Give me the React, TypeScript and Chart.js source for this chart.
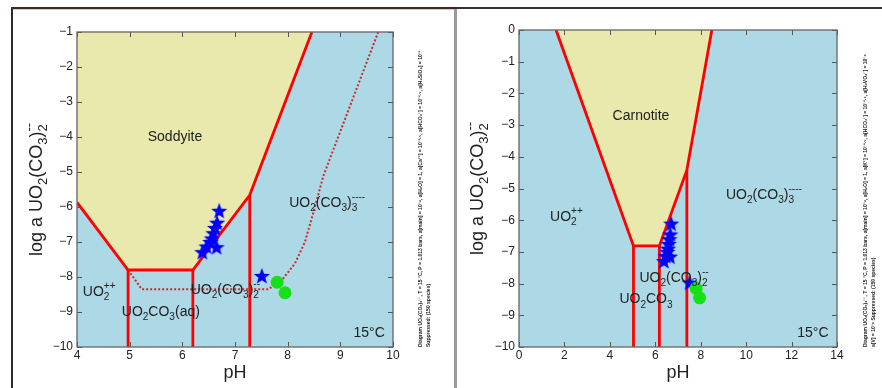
import React, { useEffect, useRef } from 'react';
import { Chart, registerables } from 'chart.js';
Chart.register(...registerables);

// ---------- data: left diagram (Soddyite) ----------
const leftXRange = [4, 10];
const leftYRange = [-10, -1];
const leftSoddyiteField: [number, number][] = [[4, -1], [4, -5.87], [4.97, -7.8], [6.2, -7.8], [7.28, -5.66], [8.46, -1]];
const leftBoundary: [number, number][] = [[4, -5.87], [4.97, -7.8], [6.2, -7.8], [7.28, -5.66], [8.46, -1]];
const leftVerticals: [number, number][] = [[4.97, -7.8], [6.2, -7.8], [7.28, -5.66]];
const leftDotted: [number, number][] = [[4.97, -7.8], [5.23, -8.35], [7.63, -8.35], [7.89, -8.09], [8.14, -7.61], [8.33, -6.99], [8.49, -6.15], [8.68, -5.1], [9.72, -1]];
const leftLabels: [string, number, number, string][] = [
  ['Soddyite', 5.86, -3.99, 'center'],
  ['UO_2(CO_3)_3^{----}', 8.03, -5.89, 'left'],
  ['UO_2^{++}', 4.11, -8.42, 'left'],
  ['UO_2(CO_3)_2^{--}', 6.16, -8.37, 'left'],
  ['UO_2CO_3(aq)', 4.85, -8.99, 'left'],
  ['15°C', 9.25, -9.61, 'left'],
];

// ---------- data: right diagram (Carnotite) ----------
const rightXRange = [0, 14];
const rightYRange = [-10, 0];
const rightCarnotiteField: [number, number][] = [[1.63, 0], [5.04, -6.81], [6.18, -6.81], [7.39, -4.42], [8.49, 0]];
const rightBoundaryLeft: [number, number][] = [[1.63, 0], [5.04, -6.81], [6.18, -6.81], [7.39, -4.42], [8.49, 0]];
const rightVerticals: [number, number][] = [[5.04, -6.81], [6.18, -6.81], [7.39, -4.42]];
const rightLabels: [string, number, number, string][] = [
  ['Carnotite', 4.12, -2.71, 'left'],
  ['UO_2^{++}', 1.37, -5.89, 'left'],
  ['UO_2(CO_3)_3^{----}', 9.11, -5.2, 'left'],
  ['UO_2(CO_3)_2^{--}', 5.3, -7.83, 'left'],
  ['UO_2CO_3', 4.42, -8.5, 'left'],
  ['15°C', 12.25, -9.57, 'left'],
];

// ---------- samples (same in both diagrams) ----------
const starPH = [6.70, 6.66, 6.62, 6.59, 6.56, 6.53, 6.46, 6.65, 6.38, 7.51];
const starLogA = [-6.11, -6.45, -6.6, -6.75, -6.9, -7.0, -7.13, -7.15, -7.29, -7.97];
const dotPH = [7.8, 7.95];
const dotLogA = [-8.15, -8.45];

const smallNoteLeft = [
  'Diagram UO\u2082(CO\u2083)\u2082\u207B\u207B, T = 15 \u00B0C, P = 1.013 bars, a[main] = 10\u207B\u2078, a[H\u2082O] = 1, a[Ca\u207A\u207A] = 10\u207B\u00B3\u00B7\u2075, a[HCO\u2083\u207B] = 10\u207B\u00B2\u00B7\u2075, a[H\u2084SiO\u2084] = 10\u207B\u00B3',
  'Suppressed: (150 species)',
];
const smallNoteRight = [
  'Diagram UO\u2082(CO\u2083)\u2082\u207B\u207B, T = 15 \u00B0C, P = 1.013 bars, a[main] = 10\u207B\u2078, a[H\u2082O] = 1, a[K\u207A] = 10\u207B\u00B3\u00B7\u2075, a[HCO\u2083\u207B] = 10\u207B\u00B2\u00B7\u2075, a[H\u2082VO\u2084\u207B] = 10\u207B\u2076',
  'a[V] = 10\u207B\u2076 Suppressed: (150 species)',
];

const FONT = '"Liberation Sans", Arial, Helvetica, sans-serif';
const TEXT = '#222222';

type Seg = { t: string; k: 'n' | 'sub' | 'sup' };
function parseRich(s: string): Seg[] {
  const out: Seg[] = [];
  let i = 0;
  let buf = '';
  const flush = () => { if (buf) { out.push({ t: buf, k: 'n' }); buf = ''; } };
  while (i < s.length) {
    const c = s[i];
    if (c === '_' || c === '^') {
      flush();
      const k = c === '_' ? 'sub' : 'sup';
      if (s[i + 1] === '{') {
        const j = s.indexOf('}', i + 2);
        out.push({ t: s.slice(i + 2, j), k });
        i = j + 1;
      } else {
        out.push({ t: s[i + 1], k });
        i += 2;
      }
    } else { buf += c; i++; }
  }
  flush();
  return out;
}

function richWidth(ctx: CanvasRenderingContext2D, segs: Seg[], size: number) {
  let w = 0;
  for (let i = 0; i < segs.length; i++) {
    const s = segs[i];
    if (s.k === 'n') { ctx.font = `${size}px ${FONT}`; w += ctx.measureText(s.t).width; }
    else {
      ctx.font = `${size * 0.72}px ${FONT}`;
      let sw = ctx.measureText(s.t).width;
      const nx = segs[i + 1];
      if (nx && nx.k !== 'n' && nx.k !== s.k) {
        sw = Math.max(sw, ctx.measureText(nx.t).width);
        i++;
      }
      w += sw;
    }
  }
  return w;
}

function drawRich(ctx: CanvasRenderingContext2D, str: string, x: number, y: number, size: number, align: string) {
  const segs = parseRich(str);
  const total = richWidth(ctx, segs, size);
  let cx = align === 'center' ? x - total / 2 : x;
  ctx.fillStyle = TEXT;
  ctx.textBaseline = 'middle';
  ctx.textAlign = 'left';
  for (let i = 0; i < segs.length; i++) {
    const s = segs[i];
    if (s.k === 'n') {
      ctx.font = `${size}px ${FONT}`;
      ctx.fillText(s.t, cx, y);
      cx += ctx.measureText(s.t).width;
    } else {
      ctx.font = `${size * 0.72}px ${FONT}`;
      const draw = (g: Seg) => {
        const dy = g.k === 'sub' ? size * 0.38 : -size * 0.42;
        ctx.fillText(g.t, cx, y + dy);
        return ctx.measureText(g.t).width;
      };
      let sw = draw(s);
      const nx = segs[i + 1];
      if (nx && nx.k !== 'n' && nx.k !== s.k) {
        sw = Math.max(sw, draw(nx));
        i++;
      }
      cx += sw;
    }
  }
}

function makeStar(): HTMLCanvasElement {
  const c = document.createElement('canvas');
  c.width = 18; c.height = 18;
  const g = c.getContext('2d')!;
  g.fillStyle = '#0000ff';
  g.beginPath();
  for (let i = 0; i < 10; i++) {
    const r = i % 2 === 0 ? 8.5 : 3.6;
    const a = -Math.PI / 2 + (i * Math.PI) / 5;
    const px = 9 + r * Math.cos(a);
    const py = 9.6 + r * Math.sin(a);
    if (i === 0) g.moveTo(px, py); else g.lineTo(px, py);
  }
  g.closePath();
  g.fill();
  return c;
}

const pts = (a: [number, number][]) => a.map(([x, y]) => ({ x, y }));

interface PanelCfg {
  xRange: number[]; yRange: number[]; xStep: number;
  field: [number, number][]; boundary: [number, number][]; verticals: [number, number][];
  dotted?: [number, number][];
  labels: [string, number, number, string][];
  area: { left: number; right: number; top: number; bottom: number };
  width: number; height: number;
  yTitleX: number;
  note: string[]; noteX: number;
}

function buildChart(canvas: HTMLCanvasElement, p: PanelCfg) {
  const star = makeStar();
  const datasets: any[] = [];
  datasets.push({
    data: pts(p.field), showLine: true, fill: 'shape', backgroundColor: '#e9e8ad',
    borderWidth: 0, borderColor: 'rgba(0,0,0,0)', pointRadius: 0, order: 10,
  });
  const redLine = (d: [number, number][]) => ({
    data: pts(d), showLine: true, fill: false, borderColor: '#ff0000', borderWidth: 2.8,
    pointRadius: 0, order: 5, borderJoinStyle: 'miter',
  });
  datasets.push(redLine(p.boundary));
  p.verticals.forEach(([vx, vy]) => datasets.push(redLine([[vx, vy], [vx, p.yRange[0]]])));
  if (p.dotted) {
    datasets.push({
      data: pts(p.dotted), showLine: true, fill: false, borderColor: '#cc2b2b', borderWidth: 2,
      borderDash: [2, 2], pointRadius: 0, order: 6,
    });
  }
  datasets.push({
    data: starPH.map((x, i) => ({ x, y: starLogA[i] })), showLine: false,
    pointStyle: star, pointRadius: 9, order: 2,
  });
  datasets.push({
    data: dotPH.map((x, i) => ({ x, y: dotLogA[i] })), showLine: false,
    pointStyle: 'circle', pointRadius: 6.5, backgroundColor: '#16e016', borderColor: '#16e016',
    borderWidth: 0, order: 1,
  });

  const bgPlugin = {
    id: 'bg',
    beforeDatasetsDraw(chart: any) {
      const { ctx, chartArea: a } = chart;
      ctx.save();
      ctx.fillStyle = '#add8e6';
      ctx.fillRect(a.left, a.top, a.right - a.left, a.bottom - a.top);
      ctx.restore();
    },
  };
  const decoPlugin = {
    id: 'deco',
    afterDraw(chart: any) {
      const { ctx, chartArea: a, scales } = chart;
      const xs = scales.x, ys = scales.y;
      ctx.save();
      // ticks inward
      ctx.strokeStyle = '#555';
      ctx.lineWidth = 1;
      ctx.beginPath();
      xs.ticks.forEach((t: any) => {
        const px = Math.round(xs.getPixelForValue(t.value)) + 0.5;
        ctx.moveTo(px, a.bottom); ctx.lineTo(px, a.bottom - 5);
        ctx.moveTo(px, a.top); ctx.lineTo(px, a.top + 5);
      });
      ys.ticks.forEach((t: any) => {
        const py = Math.round(ys.getPixelForValue(t.value)) + 0.5;
        ctx.moveTo(a.left, py); ctx.lineTo(a.left + 5, py);
        ctx.moveTo(a.right, py); ctx.lineTo(a.right - 5, py);
      });
      ctx.stroke();
      ctx.strokeStyle = '#666';
      ctx.lineWidth = 1.3;
      ctx.strokeRect(a.left, a.top, a.right - a.left, a.bottom - a.top);
      // region labels
      p.labels.forEach(([s, x, y, al]) => {
        drawRich(ctx, s, xs.getPixelForValue(x), ys.getPixelForValue(y), 14, al);
      });
      // axis titles
      drawRich(ctx, 'pH', (a.left + a.right) / 2, 373, 18, 'center');
      ctx.save();
      ctx.translate(p.yTitleX, (a.top + a.bottom) / 2);
      ctx.rotate(-Math.PI / 2);
      drawRich(ctx, 'log a UO_2(CO_3)_2^{--}', 0, 0, 18, 'center');
      ctx.restore();
      // tiny note
      ctx.save();
      ctx.fillStyle = '#222';
      ctx.font = `bold 5px ${FONT}`;
      ctx.textBaseline = 'middle';
      ctx.textAlign = 'left';
      p.note.forEach((line, i) => {
        ctx.save();
        ctx.translate(p.noteX + i * 8, a.bottom);
        ctx.rotate(-Math.PI / 2);
        ctx.fillText(line, 0, 0, i === 0 ? a.bottom - a.top - 10 : 90);
        ctx.restore();
      });
      ctx.restore();
      ctx.restore();
    },
  };

  const tickFmt = (v: any) => {
    const n = Number(v);
    return n < 0 ? '\u2212' + Math.abs(n) : String(n);
  };

  return new Chart(canvas, {
    type: 'scatter',
    data: { datasets },
    plugins: [bgPlugin, decoPlugin],
    options: {
      responsive: false,
      animation: false,
      events: [],
      layout: { padding: { left: 0, top: p.area.top, right: p.width - p.area.right, bottom: 0 } },
      plugins: { legend: { display: false }, tooltip: { enabled: false } },
      scales: {
        x: {
          type: 'linear', min: p.xRange[0], max: p.xRange[1],
          ticks: { stepSize: p.xStep, color: TEXT, font: { family: FONT, size: 12 }, padding: 1, callback: tickFmt, maxRotation: 0 },
          grid: { display: false, drawTicks: false },
          border: { display: false },
          afterFit: (s: any) => { s.height = p.height - p.area.bottom; },
        },
        y: {
          type: 'linear', min: p.yRange[0], max: p.yRange[1],
          ticks: { stepSize: 1, color: TEXT, font: { family: FONT, size: 12 }, padding: 4, callback: tickFmt },
          grid: { display: false, drawTicks: false },
          border: { display: false },
          afterFit: (s: any) => { s.width = p.area.left; },
        },
      },
    } as any,
  });
}

export default function App() {
  const leftRef = useRef<HTMLCanvasElement>(null);
  const rightRef = useRef<HTMLCanvasElement>(null);
  useEffect(() => {
    const c1 = buildChart(leftRef.current!, {
      xRange: leftXRange, yRange: leftYRange, xStep: 1,
      field: leftSoddyiteField, boundary: leftBoundary, verticals: leftVerticals, dotted: leftDotted,
      labels: leftLabels,
      area: { left: 77, right: 393, top: 32, bottom: 347 }, width: 455, height: 388,
      yTitleX: 37, note: smallNoteLeft, noteX: 421,
    });
    const c2 = buildChart(rightRef.current!, {
      xRange: rightXRange, yRange: rightYRange, xStep: 2,
      field: rightCarnotiteField, boundary: rightBoundaryLeft, verticals: rightVerticals,
      labels: rightLabels,
      area: { left: 64, right: 382, top: 30, bottom: 347 }, width: 427, height: 388,
      yTitleX: 23, note: smallNoteRight, noteX: 411,
    });
    return () => { c1.destroy(); c2.destroy(); };
  }, []);
  return (
    <div style={{ position: 'fixed', left: 0, top: 0, width: 882, height: 388, background: '#fff', overflow: 'hidden' }}>
      <canvas ref={leftRef} width={455} height={388} style={{ position: 'absolute', left: 0, top: 0, width: 455, height: 388 }} />
      <canvas ref={rightRef} width={427} height={388} style={{ position: 'absolute', left: 455, top: 0, width: 427, height: 388 }} />
      <div style={{ position: 'absolute', left: 11, top: 7, width: 2, height: 381, background: '#2b2b2b' }} />
      <div style={{ position: 'absolute', left: 11, top: 7, width: 444, height: 2, background: '#3a2a2a' }} />
      <div style={{ position: 'absolute', left: 13, top: 9, width: 442, height: 1, background: '#f3b8b8' }} />
      <div style={{ position: 'absolute', left: 455, top: 7, width: 427, height: 2, background: '#333' }} />
      <div style={{ position: 'absolute', left: 454, top: 9, width: 3, height: 379, background: '#9a9a9a' }} />
    </div>
  );
}
